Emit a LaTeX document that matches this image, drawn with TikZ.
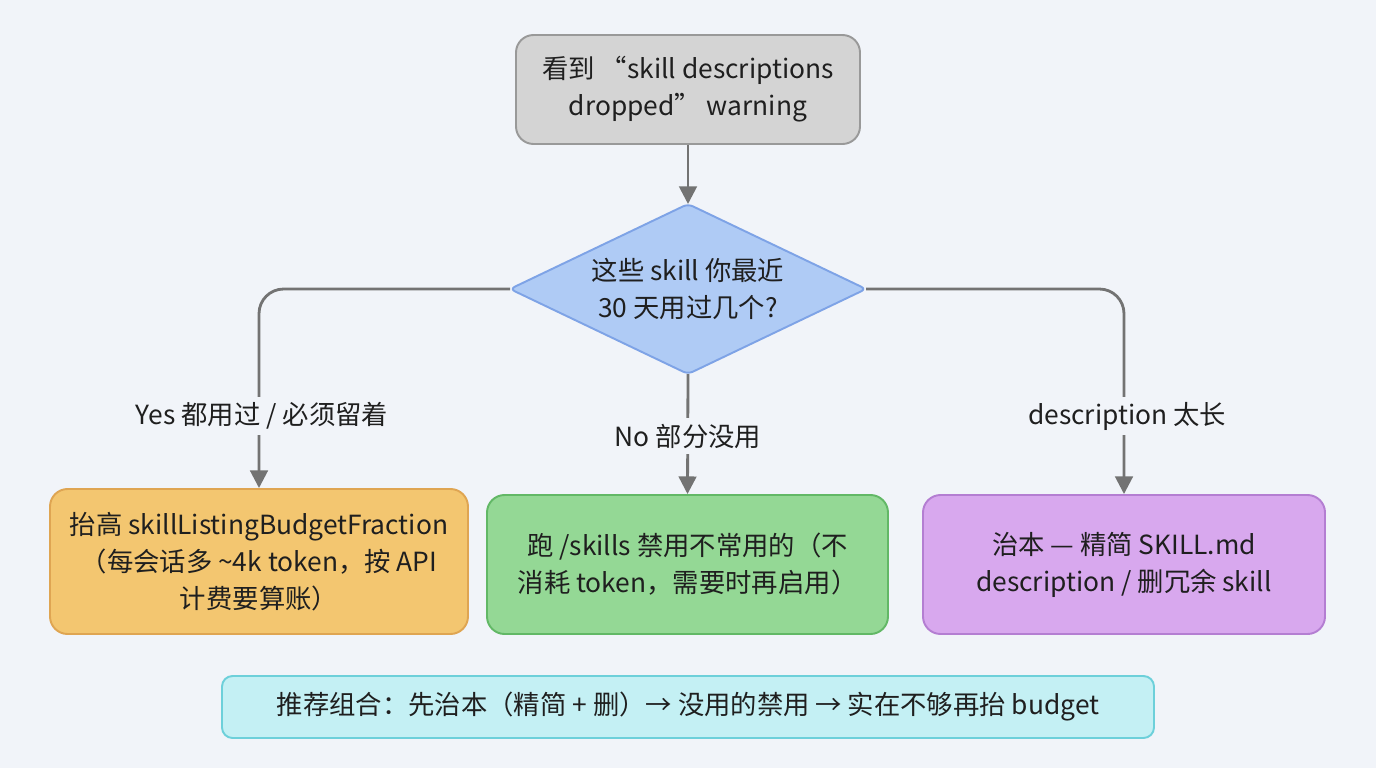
\documentclass[tikz,border=0pt]{standalone}
\usepackage{fontspec}
\setmainfont{Noto Sans CJK SC}
\usetikzlibrary{shapes.geometric,arrows.meta}
\definecolor{bg}{HTML}{F1F4F9}
\definecolor{dfill}{HTML}{AFCBF5}
\definecolor{dline}{HTML}{7EA3E6}
\definecolor{ofill}{HTML}{F3C670}
\definecolor{oline}{HTML}{DFA552}
\definecolor{gfill}{HTML}{94D895}
\definecolor{gline}{HTML}{62B866}
\definecolor{pfill}{HTML}{D8A8EE}
\definecolor{pline}{HTML}{B47ED2}
\definecolor{cfill}{HTML}{C4F0F4}
\definecolor{cline}{HTML}{6DD0DA}
\begin{document}
\begin{tikzpicture}[x=0.02cm,y=-0.02cm,
  txt/.style={font=\fontsize{15}{21}\selectfont,align=center,text=black!88},
  box/.style={txt,draw,rounded corners=10,line width=1.1pt},
  conn/.style={draw=black!55,line width=1.6pt,rounded corners=14,-{Stealth[length=10pt,width=10pt,inset=0pt]}},
  lbl/.style={txt,fill=bg,inner sep=3pt}]
\fill[bg] (0,0) rectangle (1376,768);
\useasboundingbox (0,0) rectangle (1376,768);
\node[box,fill=black!17,draw=black!40,minimum width=344*0.02cm,minimum height=109*0.02cm] (top) at (688,89.5) {看到 “skill descriptions\\dropped” warning};
\coordinate (dW) at (510,289); \coordinate (dE) at (866,289);
\coordinate (dN) at (688,204); \coordinate (dS) at (688,374);
\filldraw[fill=dfill,draw=dline,line width=1.1pt,rounded corners=3] (dW) -- (dN) -- (dE) -- (dS) -- cycle;
\node[txt] (dec) at (688,289) {这些 skill 你最近\\30 天用过几个?};
\node[box,fill=ofill,draw=oline,minimum width=418*0.02cm,minimum height=145*0.02cm] (L) at (259,561.5) {抬高 skillListingBudgetFraction\\（每会话多 \textasciitilde4k token，按 API\\计费要算账）};
\node[box,fill=gfill,draw=gline,minimum width=401*0.02cm,minimum height=139*0.02cm] (M) at (687.5,564.5) {跑 /skills 禁用不常用的（不\\消耗 token，需要时再启用）};
\node[box,fill=pfill,draw=pline,minimum width=402*0.02cm,minimum height=139*0.02cm] (R) at (1124,564.5) {治本 — 精简 SKILL.md\\description / 删冗余 skill};
\node[box,fill=cfill,draw=cline,rounded corners=6,minimum width=932*0.02cm,minimum height=62*0.02cm] (B) at (688,707) {推荐组合：先治本（精简 + 删）→ 没用的禁用 → 实在不够再抬 budget};
\draw[conn] (top) -- (dN);
\draw[conn] (dW) -| (L.north);
\draw[conn] (dS) -- (M.north);
\draw[conn] (dE) -| (R.north);
\node[lbl] at (262,416) {Yes 都用过 / 必须留着};
\node[lbl] at (688,436) {No 部分没用};
\node[lbl] at (1127,416) {description 太长};
\end{tikzpicture}
\end{document}
